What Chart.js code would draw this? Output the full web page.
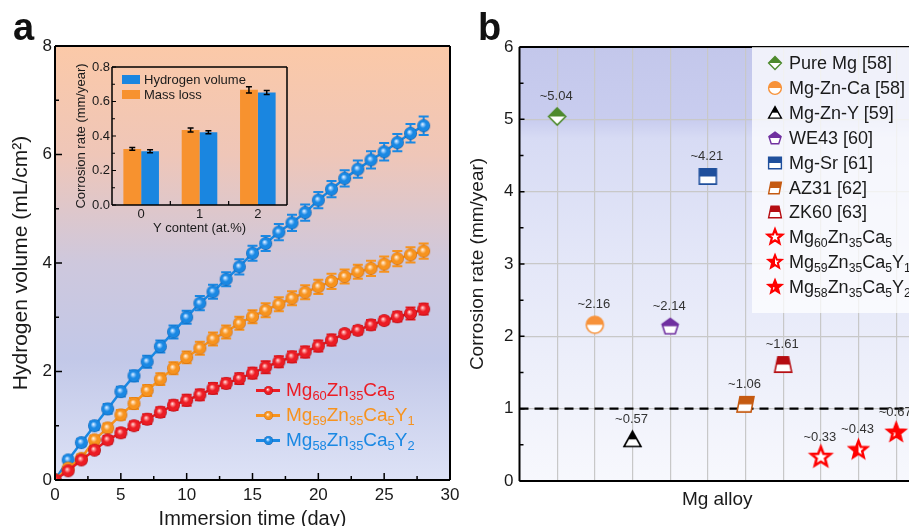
<!DOCTYPE html>
<html><head><meta charset="utf-8">
<script src="https://cdn.jsdelivr.net/npm/chart.js@4.4.1/dist/chart.umd.min.js"></script>
<style>
html,body{margin:0;padding:0;background:#fff;}
body{width:909px;height:526px;overflow:hidden;position:relative;font-family:"Liberation Sans",Arial,sans-serif;}
canvas{position:absolute;}
#cA{left:0;top:0;}
#cIn{left:60px;top:45px;}
#cB{left:465px;top:0;}
.plab{position:absolute;font-size:38px;font-weight:bold;line-height:38px;color:#111;}
.legA{position:absolute;font-size:19px;line-height:22px;white-space:nowrap;}
.legA sub,.legB sub{font-size:0.68em;vertical-align:-0.3em;line-height:0;}
.legA .ic{position:absolute;left:-30px;top:10px;width:24px;height:2.5px;}
.legA canvas{left:-23px;top:6px;}
#legB{position:absolute;left:752px;top:47px;width:170px;height:266px;background:rgba(255,255,255,0.74);}
.legB{position:absolute;left:37px;font-size:18px;line-height:22px;white-space:nowrap;color:#1a1a1a;}
.legIn{position:absolute;font-size:13px;line-height:15px;white-space:nowrap;color:#1a1a1a;}
.legIn .bx{position:absolute;left:-22px;top:3px;width:18px;height:9px;}
</style></head>
<body>
<canvas id="cA" width="465" height="545"></canvas>
<canvas id="cB" width="460" height="545"></canvas>
<canvas id="cIn" width="235" height="195"></canvas>
<div class="plab" style="left:13px;top:8px;">a</div>
<div class="plab" style="left:478px;top:8px;">b</div>
<div id="legAwrap"></div>
<div id="legInwrap"></div>
<div id="legB"></div>
<script>
// ---------------- DATA ----------------
const days = [0,1,2,3,4,5,6,7,8,9,10,11,12,13,14,15,16,17,18,19,20,21,22,23,24,25,26,27,28];
const volMg60 = [0,0.17,0.37,0.55,0.74,0.87,1.00,1.12,1.25,1.38,1.47,1.57,1.69,1.78,1.87,1.97,2.08,2.18,2.27,2.36,2.47,2.58,2.70,2.76,2.86,2.94,3.01,3.07,3.15];
const volMg59 = [0,0.22,0.40,0.74,0.96,1.20,1.41,1.65,1.86,2.06,2.26,2.43,2.60,2.73,2.89,3.01,3.13,3.24,3.35,3.46,3.56,3.66,3.75,3.84,3.90,3.98,4.08,4.15,4.22];
const volMg58 = [0,0.37,0.69,1.00,1.31,1.63,1.92,2.18,2.46,2.73,3.00,3.26,3.47,3.70,3.93,4.18,4.36,4.57,4.74,4.93,5.16,5.36,5.56,5.73,5.90,6.05,6.22,6.39,6.53];
const errMg60 = [0,0.05,0.06,0.07,0.07,0.08,0.08,0.09,0.09,0.09,0.10,0.10,0.10,0.09,0.10,0.10,0.11,0.10,0.10,0.10,0.10,0.10,0.07,0.08,0.09,0.07,0.09,0.11,0.10];
const errMg59 = [0,0.06,0.07,0.08,0.08,0.09,0.10,0.10,0.11,0.11,0.11,0.12,0.12,0.12,0.12,0.12,0.13,0.13,0.13,0.13,0.13,0.14,0.13,0.13,0.14,0.14,0.14,0.14,0.14];
const errMg58 = [0,0.06,0.07,0.08,0.09,0.09,0.10,0.11,0.11,0.12,0.12,0.13,0.13,0.13,0.14,0.14,0.14,0.15,0.15,0.15,0.15,0.15,0.15,0.16,0.16,0.16,0.16,0.17,0.17];

const yContent = ['0','1','2'];
const rateMassLoss = [0.325,0.435,0.668];
const errMassLoss = [0.008,0.012,0.018];
const rateHydrogen = [0.312,0.422,0.652];
const errHydrogen = [0.009,0.009,0.012];

const alloyNames = ['Pure Mg [58]','Mg-Zn-Ca [58]','Mg-Zn-Y [59]','WE43 [60]','Mg-Sr [61]','AZ31 [62]','ZK60 [63]','Mg<sub>60</sub>Zn<sub>35</sub>Ca<sub>5</sub>','Mg<sub>59</sub>Zn<sub>35</sub>Ca<sub>5</sub>Y<sub>1</sub>','Mg<sub>58</sub>Zn<sub>35</sub>Ca<sub>5</sub>Y<sub>2</sub>'];
const alloyPos = [1,2,3,4,5,6,7,8,9,10];
const corrRate = [5.04,2.16,0.57,2.14,4.21,1.06,1.61,0.33,0.43,0.67];
const rateLabels = ['~5.04','~2.16','~0.57','~2.14','~4.21','~1.06','~1.61','~0.33','~0.43','~0.67'];

// ---------------- STYLE ----------------
const FONT = "'Liberation Sans', Arial, sans-serif";
const RED = '#ec1c24', ORANGE = '#f7931e', BLUE = '#1a88e3';
const markerKinds = ['diamond','circle','triangle','pentagon','square','para','trap','star0','star1','star2'];
const markerColors = ['#4e8a2d','#f7923a','#000000','#7030a0','#1f4f9c','#c55a11','#b50d12','#ff0000','#ff0000','#ff0000'];

function sphere(color, light, dark, r) {
  const S = Math.ceil(2*r + 2);
  const c = document.createElement('canvas'); c.width = S; c.height = S;
  const g = c.getContext('2d'); const cx = S/2, cy = S/2;
  const grd = g.createRadialGradient(cx - r*0.2, cy - r*0.25, 0, cx, cy, r);
  grd.addColorStop(0, '#ffffff'); grd.addColorStop(0.18, light);
  grd.addColorStop(0.5, color); grd.addColorStop(0.85, color); grd.addColorStop(1, dark);
  g.beginPath(); g.arc(cx, cy, r, 0, Math.PI*2); g.fillStyle = grd; g.fill();
  return c;
}
function starPts(cx, cy, R, ir) {
  const p = [];
  for (let i = 0; i < 10; i++) {
    const a = -Math.PI/2 + i*Math.PI/5; const rr = i%2 ? ir : R;
    p.push([cx + rr*Math.cos(a), cy + rr*Math.sin(a)]);
  }
  return p;
}
function shapePts(kind, cx, cy, s) {
  switch (kind) {
    case 'diamond': return [[cx,cy-s],[cx+s,cy],[cx,cy+s],[cx-s,cy]];
    case 'triangle': return [[cx,cy-s],[cx+s,cy+s*0.8],[cx-s,cy+s*0.8]];
    case 'pentagon': { const p=[]; for(let i=0;i<5;i++){const a=-Math.PI/2+i*2*Math.PI/5;p.push([cx+s*Math.cos(a),cy+s*Math.sin(a)+s*0.08]);} return p; }
    case 'square': return [[cx-s,cy-s*0.9],[cx+s,cy-s*0.9],[cx+s,cy+s*0.9],[cx-s,cy+s*0.9]];
    case 'para': { const k=s*0.35; return [[cx-s+k,cy-s*0.9],[cx+s,cy-s*0.9],[cx+s-k,cy+s*0.9],[cx-s,cy+s*0.9]]; }
    case 'trap': return [[cx-s*0.62,cy-s*0.9],[cx+s*0.62,cy-s*0.9],[cx+s,cy+s*0.9],[cx-s,cy+s*0.9]];
    default: return starPts(cx, cy, s*1.2, s*0.52);
  }
}
function makeMarker(kind, color, s, lw) {
  const pad = Math.ceil(lw) + 2;
  const S = Math.ceil(2*s*1.2 + 2*pad);
  const c = document.createElement('canvas'); c.width = S; c.height = S;
  const g = c.getContext('2d'); const cx = S/2, cy = S/2;
  const path = (sc) => {
    g.beginPath();
    if (kind === 'circle') { g.arc(cx, cy, s*sc, 0, Math.PI*2); return; }
    const pts = shapePts(kind, cx, cy, s*sc);
    g.moveTo(pts[0][0], pts[0][1]); for (let i=1;i<pts.length;i++) g.lineTo(pts[i][0], pts[i][1]);
    g.closePath();
  };
  g.lineJoin = 'miter';
  if (kind.startsWith('star')) {
    path(1); g.fillStyle = kind === 'star0' ? '#fff' : color; g.fill();
    if (kind === 'star1') { g.save(); path(0.55); g.clip(); g.fillStyle='#fff'; g.fillRect(cx, 0, S, S); g.restore(); }
    if (kind === 'star2') { g.save(); path(0.5); g.clip(); g.fillStyle='#fff'; g.fillRect(cx - s, cy, s*0.9, s); g.restore(); }
    path(1); g.strokeStyle = color; g.lineWidth = kind === 'star0' ? lw*1.6 : lw; g.stroke();
    return c;
  }
  path(1); g.fillStyle = '#fff'; g.fill();
  g.save(); path(1); g.clip(); g.fillStyle = color;
  g.fillRect(0, 0, S, kind === 'triangle' ? cy - s*0.05 : cy); g.restore();
  path(1); g.strokeStyle = color; g.lineWidth = lw; g.stroke();
  return c;
}

// ---------------- PLUGINS ----------------
const errPlugin = {
  id: 'errbars',
  draw(chart, ds, meta) {
    const ys = chart.scales.y, ctx = chart.ctx;
    ctx.save(); ctx.strokeStyle = ds.errColor || ds.borderColor; ctx.lineWidth = ds.errWidth || 2;
    meta.data.forEach((pt, i) => {
      const e = ds.errors[i]; if (!e) return;
      const raw = ds.data[i]; const v = typeof raw === 'number' ? raw : raw.y;
      const y1 = ys.getPixelForValue(v + e), y2 = ys.getPixelForValue(v - e);
      const x = pt.x, w = ds.capWidth || 5;
      ctx.beginPath(); ctx.moveTo(x, y1); ctx.lineTo(x, y2);
      ctx.moveTo(x - w, y1); ctx.lineTo(x + w, y1);
      ctx.moveTo(x - w, y2); ctx.lineTo(x + w, y2); ctx.stroke();
    });
    ctx.restore();
  },
  beforeDatasetDraw(chart, args) { const ds = chart.data.datasets[args.index]; if (ds.errors && !ds.errAfter) this.draw(chart, ds, args.meta); },
  afterDatasetDraw(chart, args) { const ds = chart.data.datasets[args.index]; if (ds.errors && ds.errAfter) this.draw(chart, ds, args.meta); }
};

const framePlugin = {
  id: 'frame',
  beforeDraw(chart, args, o) {
    if (!o.bg) return;
    const {ctx, chartArea: a} = chart;
    const grd = ctx.createLinearGradient(0, a.top, 0, a.bottom);
    o.bg.forEach(([s, c]) => grd.addColorStop(s, c));
    ctx.save(); ctx.fillStyle = grd;
    ctx.fillRect(a.left, a.top, (o.toEdge ? chart.width : a.right) - a.left, a.bottom - a.top);
    ctx.restore();
  },
  beforeDatasetsDraw(chart, args, o) {
    if (o.refLine === undefined) return;
    const {ctx, chartArea: a} = chart; const y = chart.scales.y.getPixelForValue(o.refLine);
    ctx.save(); ctx.strokeStyle = '#000'; ctx.lineWidth = 2.2; ctx.setLineDash([9, 6]);
    ctx.beginPath(); ctx.moveTo(a.left, y); ctx.lineTo(chart.width, y); ctx.stroke(); ctx.restore();
  },
  afterDraw(chart, args, o) {
    const {ctx, chartArea: a} = chart;
    ctx.save(); ctx.strokeStyle = '#000'; ctx.lineWidth = o.lw || 2;
    const right = o.toEdge ? chart.width : a.right;
    ctx.beginPath();
    const sides = o.sides || ['left','bottom','top','right'];
    if (sides.includes('left')) { ctx.moveTo(a.left, a.top); ctx.lineTo(a.left, a.bottom); }
    if (sides.includes('bottom')) { ctx.moveTo(a.left, a.bottom); ctx.lineTo(right, a.bottom); }
    if (sides.includes('top')) { ctx.moveTo(a.left, a.top); ctx.lineTo(right, a.top); }
    if (sides.includes('right')) { ctx.moveTo(a.right, a.top); ctx.lineTo(a.right, a.bottom); }
    ctx.stroke();
    ctx.lineWidth = o.tickW || 1.5;
    ctx.beginPath();
    (o.ticks || []).forEach(t => {
      const sc = chart.scales[t.axis];
      let vals;
      if (t.kind === 'major') vals = sc.ticks.map(k => k.value);
      else if (t.kind === 'minor') { const tv = sc.ticks.map(k => k.value); vals = []; for (let i=0;i<tv.length-1;i++) vals.push((tv[i]+tv[i+1])/2); }
      else vals = t.values;
      vals.forEach(v => {
        const p = sc.getPixelForValue(v);
        if (t.axis === 'x') { ctx.moveTo(p, a.bottom); ctx.lineTo(p, a.bottom - t.len); }
        else { ctx.moveTo(a.left, p); ctx.lineTo(a.left + t.len, p); }
      });
    });
    ctx.stroke(); ctx.restore();
  },
  afterDatasetsDraw(chart, args, o) {
    if (!o.valueLabels) return;
    const ctx = chart.ctx;
    ctx.save(); ctx.font = '13px ' + FONT; ctx.fillStyle = '#333'; ctx.textAlign = 'center'; ctx.textBaseline = 'middle';
    chart.data.datasets.forEach((ds, i) => {
      const pt = chart.getDatasetMeta(i).data[0];
      ctx.fillText(ds.valueLabel, pt.x - 1, pt.y - 20);
    });
    ctx.restore();
  }
};

const tickFont = {family: FONT, size: 17};

// ---------------- CHART A ----------------
const spRed = sphere(RED, '#ff9a9a', '#a0080c', 6.5), spOr = sphere(ORANGE, '#ffd3a0', '#c8650a', 6.5), spBl = sphere(BLUE, '#9fd0ff', '#0a5aa8', 6.5);
const mk = (arr) => days.map((d, i) => ({x: d, y: arr[i]}));
new Chart(document.getElementById('cA'), {
  type: 'line',
  data: { datasets: [
    {label: 'Mg60Zn35Ca5', data: mk(volMg60), errors: errMg60, borderColor: RED, pointStyle: spRed, borderWidth: 2.5, pointRadius: 6.5, capWidth: 5},
    {label: 'Mg59Zn35Ca5Y1', data: mk(volMg59), errors: errMg59, borderColor: ORANGE, pointStyle: spOr, borderWidth: 2.5, pointRadius: 6.5, capWidth: 5},
    {label: 'Mg58Zn35Ca5Y2', data: mk(volMg58), errors: errMg58, borderColor: BLUE, pointStyle: spBl, borderWidth: 2.5, pointRadius: 6.5, capWidth: 5}
  ]},
  options: {
    responsive: false, animation: false, devicePixelRatio: 1,
    layout: {padding: {top: 46, right: 15, left: 0, bottom: 0}},
    plugins: {legend: {display: false}, tooltip: {enabled: false},
      frame: {bg: [[0,'#fbc9a8'],[0.25,'#efc6b8'],[0.5,'#cec8dd'],[0.72,'#c2c8e8'],[1,'#dde2f6']],
        ticks: [{axis:'y',kind:'major',len:7},{axis:'y',kind:'minor',len:4},{axis:'x',kind:'major',len:7},{axis:'x',kind:'minor',len:4}]}},
    scales: {
      x: {type: 'linear', min: 0, max: 30, afterFit(s){ s.height = 65; },
        grid: {display: false, drawTicks: false}, border: {display: false},
        ticks: {stepSize: 5, padding: 5, font: tickFont, color: '#1a1a1a'},
        title: {display: true, text: 'Immersion time (day)', font: {family: FONT, size: 20}, color: '#1a1a1a', padding: {top: 0, bottom: 14}}},
      y: {type: 'linear', min: 0, max: 8, afterFit(s){ s.width = 55; },
        grid: {display: false, drawTicks: false}, border: {display: false},
        ticks: {stepSize: 2, padding: 3, font: tickFont, color: '#1a1a1a'},
        title: {display: true, text: 'Hydrogen volume (mL/cm²)', font: {family: FONT, size: 21}, color: '#1a1a1a', padding: {top: 9, bottom: 0}}}
    }
  },
  plugins: [framePlugin, errPlugin]
});

// legend A (HTML)
const legA = [
  {html: 'Mg<sub>60</sub>Zn<sub>35</sub>Ca<sub>5</sub>', color: RED, light: '#ff9a9a', dark: '#a0080c'},
  {html: 'Mg<sub>59</sub>Zn<sub>35</sub>Ca<sub>5</sub>Y<sub>1</sub>', color: ORANGE, light: '#ffd3a0', dark: '#c8650a'},
  {html: 'Mg<sub>58</sub>Zn<sub>35</sub>Ca<sub>5</sub>Y<sub>2</sub>', color: BLUE, light: '#9fd0ff', dark: '#0a5aa8'}
];
legA.forEach((it, i) => {
  const d = document.createElement('div'); d.className = 'legA';
  d.style.left = '286px'; d.style.top = (379 + i*25) + 'px'; d.style.color = it.color;
  d.innerHTML = '<span class="ic" style="background:' + it.color + '"></span>' + it.html;
  const sp = sphere(it.color, it.light, it.dark, 4.5); d.appendChild(sp);
  document.getElementById('legAwrap').appendChild(d);
});

// ---------------- INSET ----------------
const BAR_OR = '#f7922f', BAR_BL = '#1a86e0';
new Chart(document.getElementById('cIn'), {
  type: 'bar',
  data: { labels: yContent, datasets: [
    {label: 'Mass loss', data: rateMassLoss, errors: errMassLoss, backgroundColor: BAR_OR, errColor: '#000', errWidth: 1.5, capWidth: 3, errAfter: true},
    {label: 'Hydrogen volume', data: rateHydrogen, errors: errHydrogen, backgroundColor: BAR_BL, errColor: '#000', errWidth: 1.5, capWidth: 3, errAfter: true}
  ]},
  options: {
    responsive: false, animation: false, devicePixelRatio: 1,
    layout: {padding: {top: 22, right: 8, left: 0, bottom: 0}},
    datasets: {bar: {categoryPercentage: 0.61, barPercentage: 1}},
    plugins: {legend: {display: false}, tooltip: {enabled: false},
      frame: {lw: 1.5, tickW: 1.2, ticks: [{axis:'y',kind:'major',len:4},{axis:'y',kind:'minor',len:3},{axis:'x',values:[0.5,1.5],len:4}]}},
    scales: {
      x: {afterFit(s){ s.height = 35; }, grid: {display: false, drawTicks: false}, border: {display: false},
        ticks: {padding: 2, font: {family: FONT, size: 13}, color: '#1a1a1a'},
        title: {display: true, text: 'Y content (at.%)', font: {family: FONT, size: 13}, color: '#1a1a1a', padding: {top: 0, bottom: 4}}},
      y: {min: 0, max: 0.8, afterFit(s){ s.width = 52; }, grid: {display: false, drawTicks: false}, border: {display: false},
        ticks: {stepSize: 0.2, padding: 2, font: {family: FONT, size: 13}, color: '#1a1a1a', callback: v => v.toFixed(1)},
        title: {display: true, text: 'Corrosion rate (mm/year)', font: {family: FONT, size: 13}, color: '#1a1a1a', padding: {top: 14, bottom: 0}}}
    }
  },
  plugins: [framePlugin, errPlugin]
});
[['Hydrogen volume', BAR_BL], ['Mass loss', BAR_OR]].forEach((it, i) => {
  const d = document.createElement('div'); d.className = 'legIn';
  d.style.left = '144px'; d.style.top = (72 + i*15) + 'px';
  d.innerHTML = '<span class="bx" style="background:' + it[1] + '"></span>' + it[0];
  document.getElementById('legInwrap').appendChild(d);
});

// ---------------- CHART B ----------------
new Chart(document.getElementById('cB'), {
  type: 'scatter',
  data: { datasets: alloyPos.map((p, i) => ({
    label: alloyNames[i].replace(/<\/?sub>/g, ''), data: [{x: p, y: corrRate[i]}],
    pointStyle: makeMarker(markerKinds[i], markerColors[i], 8.5, 1.6), pointRadius: 9,
    valueLabel: rateLabels[i]
  }))},
  options: {
    responsive: false, animation: false, devicePixelRatio: 1,
    layout: {padding: {top: 47, right: 6, left: 0, bottom: 0}},
    plugins: {legend: {display: false}, tooltip: {enabled: false},
      frame: {toEdge: true, sides: ['left','bottom','top'], refLine: 1, valueLabels: true,
        bg: [[0,'#c3c7eb'],[0.17,'#c9cdef'],[0.21,'#d7dbf4'],[0.5,'#e4e7f8'],[1,'#f7f8fd']],
        ticks: [{axis:'y',kind:'major',len:5},{axis:'y',kind:'minor',len:4}]}},
    scales: {
      x: {type: 'linear', min: 0, max: 10.5, afterFit(s){ s.height = 64; },
        grid: {color: c => (c.tick && c.tick.value > 0) ? '#c8c8c8' : 'rgba(0,0,0,0)', lineWidth: 1.2, drawTicks: false},
        border: {display: false},
        ticks: {stepSize: 1, includeBounds: false, display: false},
        title: {display: true, text: 'Mg alloy', font: {family: FONT, size: 19}, color: '#1a1a1a', padding: {top: 0, bottom: 34}}},
      y: {type: 'linear', min: 0, max: 6, afterFit(s){ s.width = 54.5; },
        grid: {color: c => (c.tick && c.tick.value > 0 && c.tick.value < 6) ? '#c8c8c8' : 'rgba(0,0,0,0)', lineWidth: 1.2, drawTicks: false},
        border: {display: false},
        ticks: {stepSize: 1, padding: 6, font: tickFont, color: '#1a1a1a'},
        title: {display: true, text: 'Corrosion rate (mm/year)', font: {family: FONT, size: 19}, color: '#1a1a1a', padding: {top: 1, bottom: 0}}}
    }
  },
  plugins: [framePlugin]
});
const legB = document.getElementById('legB');
alloyNames.forEach((nm, i) => {
  const d = document.createElement('div'); d.className = 'legB';
  d.style.top = (5 + i*24.9) + 'px';
  d.innerHTML = nm;
  const m = makeMarker(markerKinds[i], markerColors[i], 6.4, 1.4);
  m.style.left = (23 - 37 - m.width/2) + 'px'; m.style.top = (11 - m.height/2) + 'px';
  d.appendChild(m);
  legB.appendChild(d);
});
</script>
</body></html>
